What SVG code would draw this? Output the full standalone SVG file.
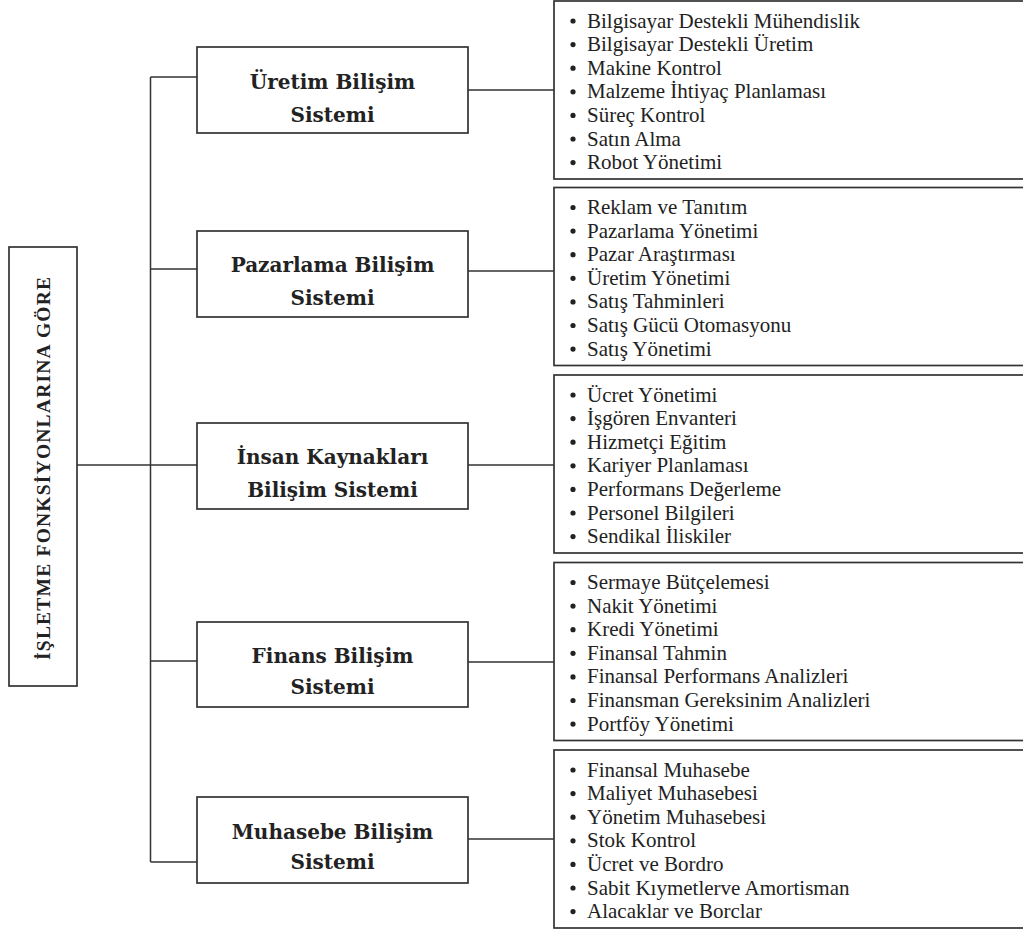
<svg xmlns="http://www.w3.org/2000/svg" width="1023" height="933" viewBox="0 0 1023 933">
<style>
.box{fill:#fff;stroke:#333;stroke-width:1.7}
.ln{stroke:#333;stroke-width:1.5;fill:none}
.ttl{font-family:"DejaVu Serif","Liberation Serif",serif;font-weight:bold;font-size:20px;fill:#222;text-anchor:middle}
.vt{font-family:"Liberation Serif",serif;font-weight:bold;font-size:19.5px;fill:#222;text-anchor:middle}
.it{font-family:"Liberation Serif",serif;font-size:21px;fill:#222}
.bl{fill:#222}
</style>
<rect width="1023" height="933" fill="#fff"/>
<g id="connectors">
<path class="ln" d="M150.5 77V862"/>
<path class="ln" d="M77 465H150.5"/>
<path class="ln" d="M150.5 77H197M150.5 269H197M150.5 465H197M150.5 661H197M150.5 862H197"/>
<path class="ln" d="M468 90H554M468 271H554M468 465H554M468 662H554M468 839H554"/>
</g>
<g id="root">
<rect class="box" x="9" y="247" width="68" height="439"/>
<text class="vt" transform="translate(50 468.5) rotate(-90)" textLength="383" lengthAdjust="spacing">İŞLETME FONKSİYONLARINA  GÖRE</text>
</g>
<g id="uretim">
<rect class="box" x="197" y="47" width="271" height="86"/>
<text class="ttl"><tspan x="332.5" y="89">Üretim Bilişim</tspan><tspan x="332.5" y="122">Sistemi</tspan></text>
</g>
<g id="pazarlama">
<rect class="box" x="197" y="231" width="271" height="86"/>
<text class="ttl"><tspan x="332.5" y="272">Pazarlama Bilişim</tspan><tspan x="332.5" y="305">Sistemi</tspan></text>
</g>
<g id="insan">
<rect class="box" x="197" y="423" width="271" height="86"/>
<text class="ttl"><tspan x="332.5" y="464">İnsan Kaynakları</tspan><tspan x="332.5" y="497">Bilişim Sistemi</tspan></text>
</g>
<g id="finans">
<rect class="box" x="197" y="622" width="271" height="85"/>
<text class="ttl"><tspan x="332.5" y="663">Finans Bilişim</tspan><tspan x="332.5" y="694">Sistemi</tspan></text>
</g>
<g id="muhasebe">
<rect class="box" x="197" y="797" width="271" height="86"/>
<text class="ttl"><tspan x="332.5" y="839">Muhasebe Bilişim</tspan><tspan x="332.5" y="869">Sistemi</tspan></text>
</g>
<g id="list-uretim" transform="translate(0 1)">
<rect class="box" x="554" y="0" width="480" height="178"/>
<g class="bl"><circle cx="573" cy="20" r="2.6"/><circle cx="573" cy="43.6" r="2.6"/><circle cx="573" cy="67.2" r="2.6"/><circle cx="573" cy="90.8" r="2.6"/><circle cx="573" cy="114.4" r="2.6"/><circle cx="573" cy="138" r="2.6"/><circle cx="573" cy="161.6" r="2.6"/></g>
<text class="it" x="587"><tspan x="587" y="26.5">Bilgisayar Destekli Mühendislik</tspan><tspan x="587" y="50.1">Bilgisayar Destekli Üretim</tspan><tspan x="587" y="73.7">Makine Kontrol</tspan><tspan x="587" y="97.3">Malzeme İhtiyaç Planlaması</tspan><tspan x="587" y="120.9">Süreç Kontrol</tspan><tspan x="587" y="144.5">Satın Alma</tspan><tspan x="587" y="168.1">Robot Yönetimi</tspan></text>
</g>
<g id="list-pazarlama" transform="translate(0 187.5)">
<rect class="box" x="554" y="0" width="480" height="178"/>
<g class="bl"><circle cx="573" cy="20" r="2.6"/><circle cx="573" cy="43.6" r="2.6"/><circle cx="573" cy="67.2" r="2.6"/><circle cx="573" cy="90.8" r="2.6"/><circle cx="573" cy="114.4" r="2.6"/><circle cx="573" cy="138" r="2.6"/><circle cx="573" cy="161.6" r="2.6"/></g>
<text class="it"><tspan x="587" y="26.5">Reklam ve Tanıtım</tspan><tspan x="587" y="50.1">Pazarlama Yönetimi</tspan><tspan x="587" y="73.7">Pazar Araştırması</tspan><tspan x="587" y="97.3">Üretim Yönetimi</tspan><tspan x="587" y="120.9">Satış Tahminleri</tspan><tspan x="587" y="144.5">Satış Gücü Otomasyonu</tspan><tspan x="587" y="168.1">Satış Yönetimi</tspan></text>
</g>
<g id="list-insan" transform="translate(0 375)">
<rect class="box" x="554" y="0" width="480" height="178"/>
<g class="bl"><circle cx="573" cy="20" r="2.6"/><circle cx="573" cy="43.6" r="2.6"/><circle cx="573" cy="67.2" r="2.6"/><circle cx="573" cy="90.8" r="2.6"/><circle cx="573" cy="114.4" r="2.6"/><circle cx="573" cy="138" r="2.6"/><circle cx="573" cy="161.6" r="2.6"/></g>
<text class="it"><tspan x="587" y="26.5">Ücret Yönetimi</tspan><tspan x="587" y="50.1">İşgören Envanteri</tspan><tspan x="587" y="73.7">Hizmetçi Eğitim</tspan><tspan x="587" y="97.3">Kariyer Planlaması</tspan><tspan x="587" y="120.9">Performans Değerleme</tspan><tspan x="587" y="144.5">Personel Bilgileri</tspan><tspan x="587" y="168.1">Sendikal İliskiler</tspan></text>
</g>
<g id="list-finans" transform="translate(0 562.5)">
<rect class="box" x="554" y="0" width="480" height="178"/>
<g class="bl"><circle cx="573" cy="20" r="2.6"/><circle cx="573" cy="43.6" r="2.6"/><circle cx="573" cy="67.2" r="2.6"/><circle cx="573" cy="90.8" r="2.6"/><circle cx="573" cy="114.4" r="2.6"/><circle cx="573" cy="138" r="2.6"/><circle cx="573" cy="161.6" r="2.6"/></g>
<text class="it"><tspan x="587" y="26.5">Sermaye Bütçelemesi</tspan><tspan x="587" y="50.1">Nakit Yönetimi</tspan><tspan x="587" y="73.7">Kredi Yönetimi</tspan><tspan x="587" y="97.3">Finansal Tahmin</tspan><tspan x="587" y="120.9">Finansal Performans Analizleri</tspan><tspan x="587" y="144.5">Finansman Gereksinim Analizleri</tspan><tspan x="587" y="168.1">Portföy Yönetimi</tspan></text>
</g>
<g id="list-muhasebe" transform="translate(0 750)">
<rect class="box" x="554" y="0" width="480" height="178"/>
<g class="bl"><circle cx="573" cy="20" r="2.6"/><circle cx="573" cy="43.6" r="2.6"/><circle cx="573" cy="67.2" r="2.6"/><circle cx="573" cy="90.8" r="2.6"/><circle cx="573" cy="114.4" r="2.6"/><circle cx="573" cy="138" r="2.6"/><circle cx="573" cy="161.6" r="2.6"/></g>
<text class="it"><tspan x="587" y="26.5">Finansal Muhasebe</tspan><tspan x="587" y="50.1">Maliyet Muhasebesi</tspan><tspan x="587" y="73.7">Yönetim Muhasebesi</tspan><tspan x="587" y="97.3">Stok Kontrol</tspan><tspan x="587" y="120.9">Ücret ve Bordro</tspan><tspan x="587" y="144.5">Sabit Kıymetlerve Amortisman</tspan><tspan x="587" y="168.1">Alacaklar ve Borclar</tspan></text>
</g>
</svg>
